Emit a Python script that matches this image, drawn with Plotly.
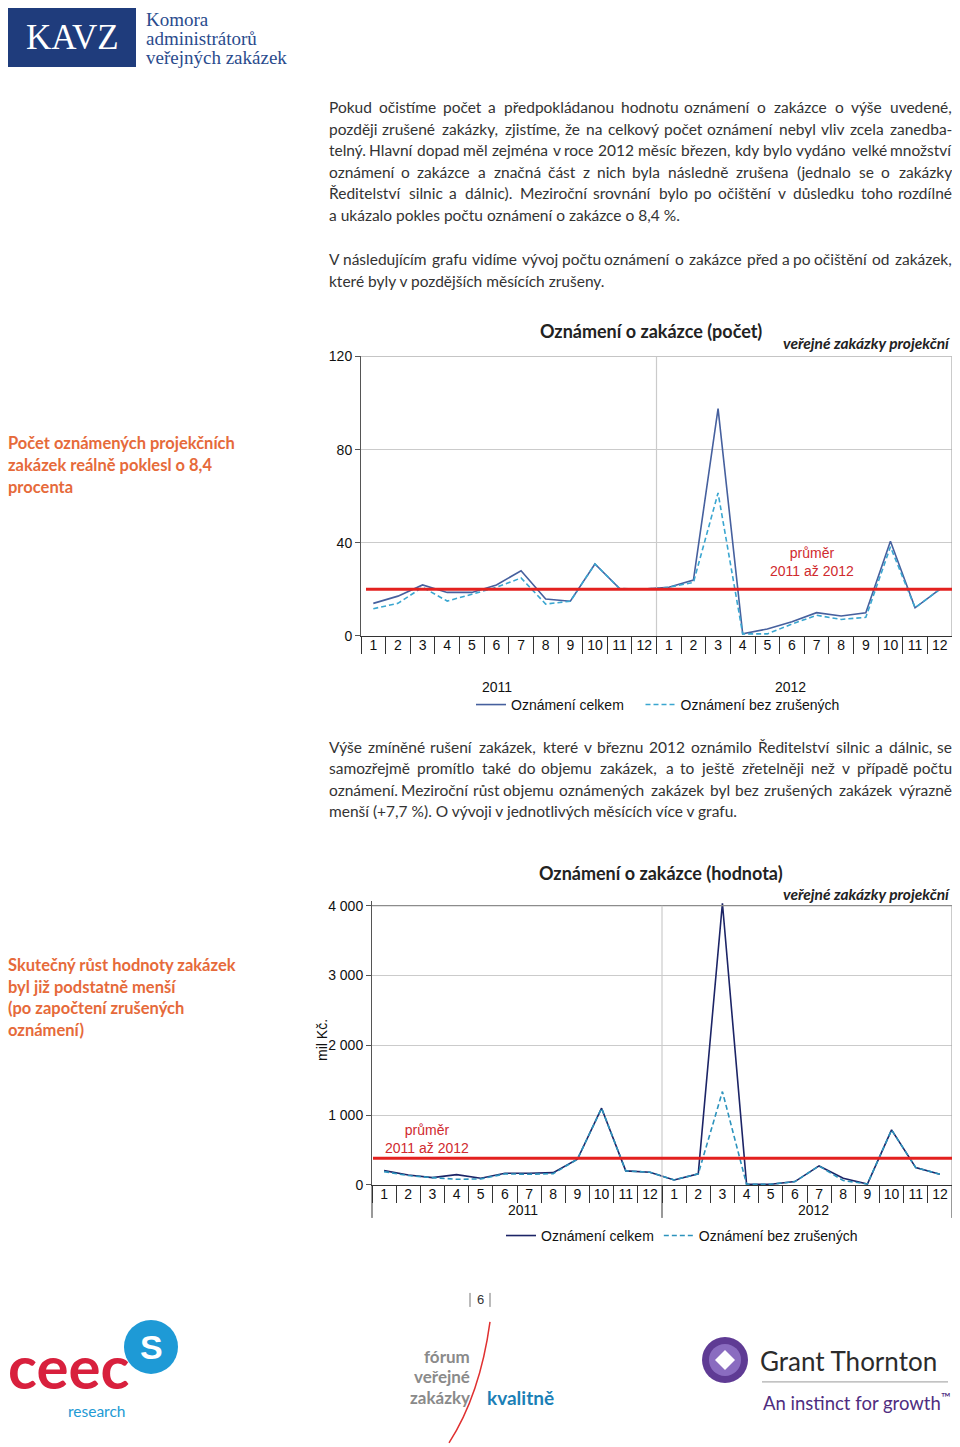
import plotly.graph_objects as go

# Observed page transform: figure starts 8px from the left / 16px from the top and its
# vertical axis is displayed at ~0.989 scale; positions below are reference-page pixels.
PAGE_W = 960
OFF_X, OFF_Y, SY = 8, 16, 0.989
W, H = PAGE_W - 2 * OFF_X, 1447


def px(x):
    return (x - OFF_X) / W


def py(y):
    return 1 - (y - OFF_Y) / (SY * H)


# ---------------- data ----------------
years = ["2011", "2012"]
months = [str(m) for m in range(1, 13)]
keys = [f"{y}-{m}" for y in years for m in months]
month_labels = months + months

count_total = [14.0, 17.1, 21.9, 18.7, 18.7, 21.9, 28.0, 15.9, 14.9, 30.9, 20.4, 20.1,
               20.9, 24.0, 97.6, 0.9, 3.0, 6.1, 10.0, 8.6, 10.0, 40.7, 12.1, 20.0]
count_clean = [11.7, 14.0, 20.9, 15.0, 17.9, 20.9, 24.9, 13.7, 14.9, 30.9, 20.4, 20.1,
               20.9, 23.0, 61.4, 0.9, 0.9, 5.1, 8.9, 7.1, 8.0, 38.3, 12.1, 20.0]
count_mean = 20.1

value_total = [205, 143, 105, 148, 96, 168, 168, 176, 368, 1099, 201, 182,
               72, 158, 4035, 10, 10, 48, 272, 96, 14, 788, 248, 153]
value_clean = [191, 134, 105, 81, 86, 158, 153, 162, 368, 1099, 201, 182,
               72, 158, 1337, 10, 10, 48, 272, 62, 14, 788, 248, 153]
value_mean = 382

count_ticks = [0, 40, 80, 120]
value_ticks = [0, 1000, 2000, 3000, 4000]

legend_names = ["Oznámení celkem", "Oznámení bez zrušených"]
title1 = "Oznámení o zakázce (počet)"
title2 = "Oznámení o zakázce (hodnota)"
subtitle = "veřejné zakázky projekční"
avg_label = "průměr<br>2011 až 2012"
yunit = "mil Kč."

para1 = [
    "Pokud očistíme počet a předpokládanou hodnotu oznámení o zakázce o výše uvedené,",
    "později zrušené zakázky, zjistíme, že na celkový počet oznámení nebyl vliv zcela zanedba-",
    "telný. Hlavní dopad měl zejména v roce 2012 měsíc březen, kdy bylo vydáno velké množství",
    "oznámení o zakázce a značná část z nich byla následně zrušena (jednalo se o zakázky",
    "Ředitelství silnic a dálnic). Meziroční srovnání bylo po očištění  v důsledku toho rozdílné",
    "a ukázalo pokles počtu oznámení o zakázce o 8,4 %.",
]
para2 = [
    "V následujícím grafu vidíme vývoj počtu oznámení o zakázce před a po očištění od zakázek,",
    "které byly v pozdějších měsících zrušeny.",
]
para3 = [
    "Výše zmíněné rušení zakázek, které v březnu 2012 oznámilo Ředitelství silnic a dálnic, se",
    "samozřejmě promítlo také do objemu zakázek, a to ještě zřetelněji než v případě počtu",
    "oznámení. Meziroční růst objemu oznámených zakázek byl bez zrušených zakázek výrazně",
    "menší (+7,7 %). O vývoji v jednotlivých měsících více v grafu.",
]
side1 = ["Počet oznámených projekčních", "zakázek reálně poklesl o 8,4", "procenta"]
side2 = ["Skutečný růst hodnoty zakázek", "byl již podstatně menší",
         "(po započtení zrušených", "oznámení)"]

# ---------------- styles ----------------
SOLID1 = "#46609e"
DASH1 = "#3aa6d0"
SOLID2 = "#1c2466"
DASH2 = "#2c93bd"
RED = "#e3211f"
RED_TXT = "#d02a2e"
ORANGE = "#e66a3a"
ARIAL = "Liberation Sans, Arial, sans-serif"
BODY = "Lato, Open Sans, sans-serif"
SERIF = "Liberation Serif, DejaVu Serif, serif"
GRID = "#cbcbcb"
BODY_SIZE = 15.5
NBSP = "\u00a0"

fig = go.Figure()
fig.add_trace(go.Scatter(x=keys, y=count_total, name=legend_names[0] + NBSP * 3,
                         mode="lines", line=dict(color=SOLID1, width=1.6),
                         xaxis="x", yaxis="y", legend="legend"))
fig.add_trace(go.Scatter(x=keys, y=count_clean, name=legend_names[1], mode="lines",
                         line=dict(color=DASH1, width=1.6, dash="5px,3px"),
                         xaxis="x", yaxis="y", legend="legend"))
fig.add_trace(go.Scatter(x=keys, y=value_total, name=legend_names[0], mode="lines",
                         line=dict(color=SOLID2, width=1.6), xaxis="x2", yaxis="y2",
                         legend="legend2"))
fig.add_trace(go.Scatter(x=keys, y=value_clean, name=legend_names[1], mode="lines",
                         line=dict(color=DASH2, width=1.6, dash="5px,3px"),
                         xaxis="x2", yaxis="y2", legend="legend2"))


def xcat(domain, anchor):
    return dict(domain=domain, anchor=anchor, type="category", categoryorder="array",
                categoryarray=keys, tickmode="array", tickvals=keys, ticktext=month_labels,
                tickson="boundaries", ticks="outside", ticklen=17, tickwidth=1,
                tickcolor="#333", showline=True, linecolor="#333", linewidth=1,
                showgrid=False, zeroline=False, range=[-0.5, 23.5], tickangle=0,
                tickfont=dict(family=ARIAL, size=14, color="#111"),
                ticklabelstandoff=-4, fixedrange=True)


def ylin(domain, anchor, rng, tv):
    return dict(domain=domain, anchor=anchor, range=rng, tickmode="array", tickvals=tv,
                ticks="outside", ticklen=5, tickcolor="#555", showline=True,
                linecolor="#555", linewidth=1, gridcolor=GRID, gridwidth=1,
                zeroline=False, separatethousands=True,
                tickfont=dict(family=ARIAL, size=14, color="#111"), fixedrange=True)


fig.update_layout(
    width=W, height=H, margin=dict(l=0, r=0, t=0, b=0),
    paper_bgcolor="white", plot_bgcolor="white", separators=", ",
    xaxis=xcat([px(361), px(952)], "y"),
    yaxis=ylin([py(636), py(356.5)], "x", [0, 120], count_ticks),
    xaxis2=xcat([px(372), px(952)], "y2"),
    yaxis2=ylin([py(1185), py(901.5)], "x2", [0, 4060], value_ticks),
    legend=dict(orientation="h", x=px(471), y=py(705), xanchor="left", yanchor="middle",
                font=dict(family=ARIAL, size=14, color="#111"), bgcolor="rgba(0,0,0,0)",
                itemwidth=30),
    legend2=dict(orientation="h", x=px(501), y=py(1236), xanchor="left", yanchor="middle",
                 font=dict(family=ARIAL, size=14, color="#111"), bgcolor="rgba(0,0,0,0)",
                 itemwidth=30),
)

shapes = []
shapes += [
    dict(type="line", xref="paper", yref="y", x0=px(361), x1=px(952), y0=120, y1=120,
         line=dict(color="#8c8c8c", width=1.2)),
    dict(type="line", xref="paper", yref="y", x0=px(952), x1=px(952), y0=0, y1=120,
         line=dict(color="#a8a8a8", width=1.2)),
    dict(type="line", xref="x", yref="y", x0=11.5, x1=11.5, y0=0, y1=120,
         line=dict(color=GRID, width=1.2)),
    dict(type="line", xref="paper", yref="y2", x0=px(372), x1=px(952), y0=4000, y1=4000,
         line=dict(color="#8c8c8c", width=1.2)),
    dict(type="line", xref="paper", yref="y2", x0=px(952), x1=px(952), y0=0, y1=4000,
         line=dict(color="#a8a8a8", width=1.2)),
    dict(type="line", xref="x2", yref="y2", x0=11.5, x1=11.5, y0=0, y1=4000,
         line=dict(color=GRID, width=1.2)),
]
for xd in [372, 662, 952]:
    shapes.append(dict(type="line", xref="paper", yref="paper", x0=px(xd), x1=px(xd),
                       y0=py(1185), y1=py(1218), line=dict(color="#333", width=1)))
shapes += [
    dict(type="line", xref="paper", yref="y", x0=px(366), x1=px(953), y0=count_mean,
         y1=count_mean, line=dict(color=RED, width=3)),
    dict(type="line", xref="paper", yref="y2", x0=px(373), x1=px(952), y0=value_mean,
         y1=value_mean, line=dict(color=RED, width=3)),
]
# KAVZ logo block
shapes.append(dict(type="rect", xref="paper", yref="paper", x0=px(8), x1=px(136),
                   y0=py(67), y1=py(5), fillcolor="#1f3c7c", line=dict(width=0)))
# page number bars
for xb in [470, 490]:
    shapes.append(dict(type="line", xref="paper", yref="paper", x0=px(xb), x1=px(xb),
                       y0=py(1307), y1=py(1293), line=dict(color="#777", width=1)))
# ceec circle
shapes.append(dict(type="circle", xref="paper", yref="paper", x0=px(124), x1=px(178),
                   y0=py(1374), y1=py(1320), fillcolor="#1e9ad6", line=dict(width=0)))
# forum red curve
shapes.append(dict(type="path", xref="paper", yref="paper",
                   path=f"M {px(490)},{py(1322)} Q {px(480)},{py(1395)} {px(449)},{py(1443)}",
                   line=dict(color="#e03030", width=1.5)))
# Grant Thornton mark
shapes.append(dict(type="circle", xref="paper", yref="paper", x0=px(702), x1=px(748),
                   y0=py(1383), y1=py(1337), fillcolor="#5f3b94", line=dict(width=0)))
shapes.append(dict(type="circle", xref="paper", yref="paper", x0=px(709), x1=px(741),
                   y0=py(1376), y1=py(1344), fillcolor="#8a6cc0", line=dict(width=0)))
shapes.append(dict(type="path", xref="paper", yref="paper",
                   path=(f"M {px(725)},{py(1350)} L {px(735)},{py(1360)} L {px(725)},{py(1370)} "
                         f"L {px(715)},{py(1360)} Z"),
                   fillcolor="white", line=dict(width=0)))
shapes.append(dict(type="line", xref="paper", yref="paper", x0=px(762), x1=px(948),
                   y0=py(1382), y1=py(1382), line=dict(color="#9a9a9a", width=1)))

ann = []


def txt(x, y, s, size, color, family=BODY, xanchor="left", angle=0):
    ann.append(dict(x=px(x), y=py(y), xref="paper", yref="paper", text=s, showarrow=False,
                    xanchor=xanchor, yanchor="middle", textangle=angle,
                    font=dict(family=family, size=size, color=color)))


# --- approximate Lato advance widths (em) for justified body text ---
LATO_W = {}


def _setw(chars, w):
    for c in chars:
        LATO_W[c] = w


_setw("aáeéěoóuúůnňvyýkxghdďbpq", 0.53)
_setw("iljí.,:;'!|", 0.235)
_setw("ftrř()-ť", 0.34)
_setw("sšzžcč", 0.44)
_setw("mw", 0.79)
_setw("0123456789+", 0.58)
_setw("ABCDEFGHJKLNOPQRSTUVXYZŘĚŠČŽÝÁÍÉ", 0.66)
_setw("MW", 0.86)
_setw("I", 0.28)
_setw("%", 0.76)
LATO_W[" "] = 0.193


def est(s):
    return sum(LATO_W.get(c, 0.53) for c in s)


# calibration: first line measured ~604 px wide at 16 px
K = 604.0 / (16 * est(para1[0]))
LEFT, RIGHT = 328, 953


def justified(line, y):
    words = line.split()
    widths = [BODY_SIZE * K * est(w) for w in words]
    gap = (RIGHT - LEFT - sum(widths)) / (len(words) - 1)
    xcur = LEFT
    for i, (w, ww) in enumerate(zip(words, widths)):
        if i == 0:
            txt(LEFT - 1, y, w, BODY_SIZE, "#333")
        elif i == len(words) - 1:
            txt(RIGHT + 1, y, w, BODY_SIZE, "#333", xanchor="right")
        else:
            txt(xcur + ww / 2, y, w, BODY_SIZE, "#333", xanchor="center")
        xcur += ww + gap


def paragraph(lines, y0, dy):
    for i, line in enumerate(lines):
        y = y0 + i * dy
        if i < len(lines) - 1:
            justified(line, y)
        else:
            txt(LEFT - 1, y, line, BODY_SIZE, "#333")


paragraph(para1, 107, 21.6)
paragraph(para2, 259, 22)
paragraph(para3, 747, 21.4)

for i, line in enumerate(side1):
    txt(6, 443 + i * 22, f"<b>{line}</b>", 16.5, ORANGE)
for i, line in enumerate(side2):
    txt(6, 965 + i * 21.7, f"<b>{line}</b>", 16.5, ORANGE)

# chart titles
txt(651, 331, f"<b>{title1}</b>", 18, "#222", xanchor="center")
txt(953, 343, f"<b><i>{subtitle}</i></b>", 15.5, "#222", xanchor="right")
txt(661, 873, f"<b>{title2}</b>", 18, "#222", xanchor="center")
txt(953, 894, f"<b><i>{subtitle}</i></b>", 15.5, "#222", xanchor="right")
# average labels
txt(812, 562, avg_label, 14, RED_TXT, family=ARIAL, xanchor="center")
txt(427, 1139, avg_label, 14, RED_TXT, family=ARIAL, xanchor="center")
# year labels
txt(497, 687, years[0], 14, "#111", family=ARIAL, xanchor="center")
txt(790, 687, years[1], 14, "#111", family=ARIAL, xanchor="center")
txt(523, 1210, years[0], 14, "#111", family=ARIAL, xanchor="center")
txt(813, 1210, years[1], 14, "#111", family=ARIAL, xanchor="center")
# unit
txt(322, 1040, yunit, 14, "#111", family=ARIAL, xanchor="center", angle=-90)

# header logo
txt(72, 38, "KAVZ", 35, "white", family=SERIF, xanchor="center")
txt(144, 20, "Komora", 19, "#2a4b8d", family=SERIF)
txt(144, 39, "administrátorů", 19, "#2a4b8d", family=SERIF)
txt(144, 58, "veřejných zakázek", 19, "#2a4b8d", family=SERIF)

# footer
txt(480, 1300, "6", 13, "#333", family=ARIAL, xanchor="center")
txt(69, 1366, "<b>ceec</b>", 60, "#d8203d", family="Lato, sans-serif", xanchor="center")
txt(96, 1411, "research", 15.5, "#239ad4", family="Lato, sans-serif", xanchor="center")
txt(151, 1347, "<b>S</b>", 34, "white", family=ARIAL, xanchor="center")
txt(472, 1357, "<b>fórum</b>", 17, "#8a8a8a", xanchor="right")
txt(472, 1377, "<b>veřejné</b>", 17, "#8a8a8a", xanchor="right")
txt(472, 1398, "<b>zakázky</b>", 17, "#8a8a8a", xanchor="right")
txt(485, 1398, "<b>kvalitně</b>", 19, "#1b7fb6")
txt(758, 1361, "Grant Thornton", 26, "#2b2b2b", family="Lato, sans-serif")
txt(761, 1402, "An instinct for growth<sup>™</sup>", 18.5, "#4f2d7f",
    family="Lato, sans-serif")

fig.update_layout(shapes=shapes, annotations=ann)
fig.write_html("out.html")
